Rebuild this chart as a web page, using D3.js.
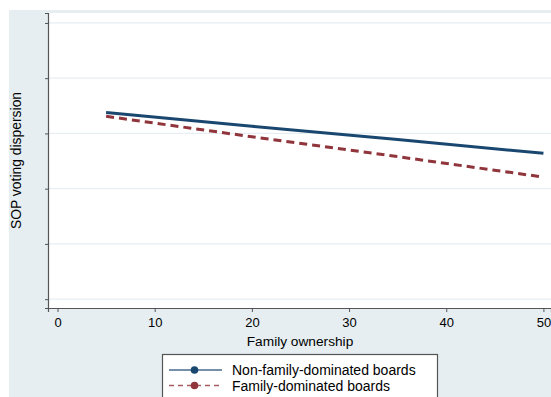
<!DOCTYPE html>
<html>
<head>
<meta charset="utf-8">
<script src="https://cdn.jsdelivr.net/npm/d3@7"></script>
<style>
  body { margin: 0; background: #fff; }
  text { font-family: "Liberation Sans", Arial, sans-serif; fill: #000; }
</style>
</head>
<body>
<script>
// data (y axis has no labels, arbitrary units)
var ownership = [5, 20, 35, 50];
var nonFamily = [3.38, 3.13, 2.89, 2.64];
var family = [3.31, 2.94, 2.58, 2.21];
var xTicks = [0, 10, 20, 30, 40, 50];
var yTicks = [0, 1, 2, 3, 4, 5];
var seriesNames = ["Non-family-dominated boards", "Family-dominated boards"];

var width = 551, height = 397;
var plot = { left: 48, right: 551, top: 13, bottom: 308 };

var svg = d3.select("body").append("svg")
    .attr("width", width)
    .attr("height", height);

// graph region
svg.append("rect")
    .attr("x", 9).attr("y", 10)
    .attr("width", width - 9).attr("height", height - 10)
    .attr("fill", "#e6eef1");

svg.append("rect")
    .attr("x", plot.left).attr("y", plot.top)
    .attr("width", plot.right - plot.left).attr("height", plot.bottom - plot.top)
    .attr("fill", "#fff");

var x = d3.scaleLinear().domain([-0.98, 50.78]).range([plot.left, plot.right]);
var y = d3.scaleLinear().domain([-0.16, 5.18]).range([plot.bottom, plot.top]);

// grid
svg.append("g").selectAll("line")
    .data(yTicks)
    .enter().append("line")
    .attr("x1", plot.left).attr("x2", plot.right)
    .attr("y1", function (d) { return y(d); })
    .attr("y2", function (d) { return y(d); })
    .attr("stroke", "#e6eef2")
    .attr("stroke-width", 1.3);

// axes
var yAxis = svg.append("g")
    .attr("transform", "translate(" + plot.left + ",0)")
    .call(d3.axisLeft(y).tickValues(yTicks).tickSize(3).tickFormat(""));

var xAxis = svg.append("g")
    .attr("transform", "translate(0," + plot.bottom + ")")
    .call(d3.axisBottom(x).tickValues(xTicks).tickSize(4).tickPadding(6));

[yAxis, xAxis].forEach(function (ax) {
    ax.select(".domain").attr("stroke", "#555").attr("stroke-width", 1.2);
    ax.selectAll(".tick line").attr("stroke", "#555");
});
xAxis.selectAll(".tick text")
    .style("font-size", "13px")
    .style("font-family", "Liberation Sans, Arial, sans-serif")
    .attr("fill", "#000");

// titles
svg.append("text")
    .attr("x", 300).attr("y", 346)
    .attr("text-anchor", "middle")
    .style("font-size", "13.7px")
    .text("Family ownership");

svg.append("text")
    .attr("transform", "translate(21," + (plot.top + plot.bottom) / 2 + ") rotate(-90)")
    .attr("text-anchor", "middle")
    .style("font-size", "13.9px")
    .text("SOP voting dispersion");

// lines
var line = d3.line()
    .x(function (d) { return x(d[0]); })
    .y(function (d) { return y(d[1]); });

svg.append("path")
    .datum(d3.zip(ownership, nonFamily))
    .attr("d", line)
    .attr("fill", "none")
    .attr("stroke", "#1a476f")
    .attr("stroke-width", 3);

svg.append("path")
    .datum(d3.zip(ownership, family))
    .attr("d", line)
    .attr("fill", "none")
    .attr("stroke", "#90353b")
    .attr("stroke-width", 3)
    .attr("stroke-dasharray", "8,5");

// legend
var legend = svg.append("g");
legend.append("rect")
    .attr("x", 162.5).attr("y", 354.5)
    .attr("width", 275).attr("height", 60)
    .attr("fill", "#fff")
    .attr("stroke", "#555")
    .attr("stroke-width", 1.2);

var legendColors = ["#1a476f", "#90353b"];
var legendDash = [null, "5,4"];
seriesNames.forEach(function (name, i) {
    var ly = 370 + i * 15.5;
    legend.append("line")
        .attr("x1", 169).attr("x2", 222)
        .attr("y1", ly).attr("y2", ly)
        .attr("stroke", legendColors[i])
        .attr("stroke-opacity", 0.8)
        .attr("stroke-width", 1.3)
        .attr("stroke-dasharray", legendDash[i]);
    legend.append("circle")
        .attr("cx", 194.5).attr("cy", ly)
        .attr("r", 3.8)
        .attr("fill", legendColors[i]);
    legend.append("text")
        .attr("x", 232).attr("y", ly + 5)
        .style("font-size", "14px")
        .text(name);
});
</script>
</body>
</html>
